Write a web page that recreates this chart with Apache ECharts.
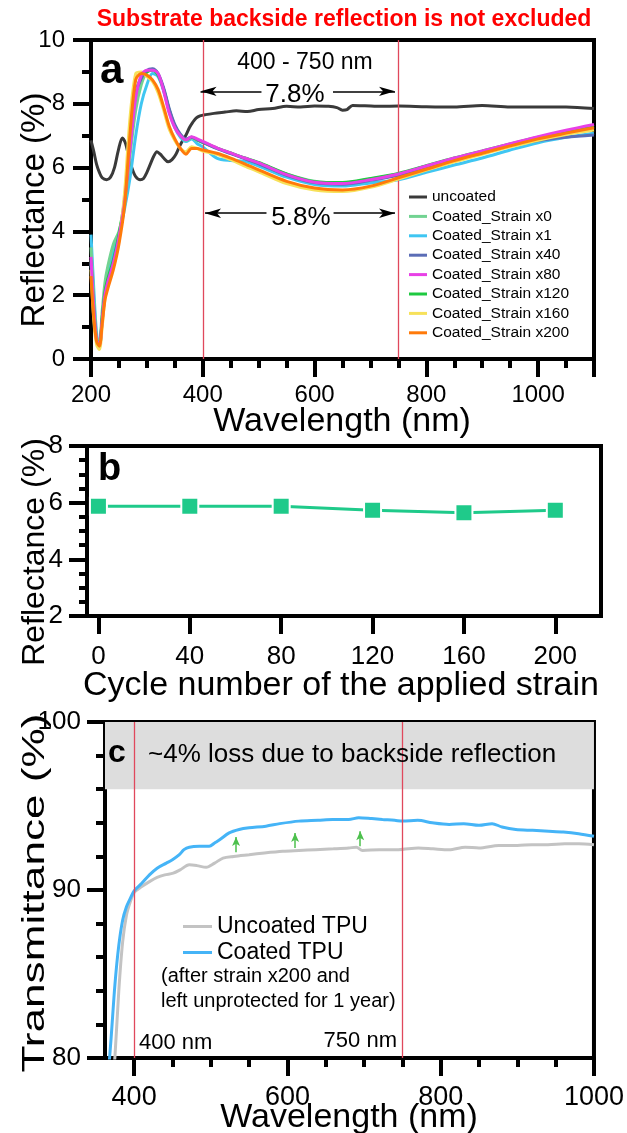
<!DOCTYPE html>
<html><head><meta charset="utf-8">
<script src="https://cdn.jsdelivr.net/npm/echarts@6/dist/echarts.min.js"></script>
<style>html,body{margin:0;padding:0;background:#fff}#c{width:627px;height:1133px}</style>
</head><body><div id="c"></div>
<script>
// ---------- Panel a data ----------
const wlCoated = [200,205,210,215,220,225,230,240,250,260,270,280,290,300,310,320,330,340,350,360,370,380,390,400,425,450,475,500,550,600,650,700,750,800,850,900,950,1000,1050,1100];
const wlUncoated = [200,205,210,215,220,228,235,242,249,256,262,268,274,280,288,294,300,306,312,318,324,330,338,345,352,358,364,370,376,382,388,395,405,420,440,460,480,500,525,550,575,600,625,640,650,658,668,690,720,750,800,850,900,950,1000,1050,1100];
const rUncoated = [6.85,6.5,6.1,5.85,5.68,5.62,5.7,6.0,6.55,6.93,6.75,6.3,5.95,5.72,5.62,5.66,5.85,6.1,6.35,6.5,6.42,6.3,6.18,6.25,6.42,6.65,6.85,7.02,7.25,7.42,7.55,7.62,7.66,7.7,7.74,7.78,7.76,7.82,7.85,7.92,7.9,7.93,7.92,7.88,7.8,7.82,7.95,7.94,7.92,7.93,7.91,7.9,7.95,7.9,7.9,7.9,7.85];
const rStrain0   = [3.5,1.9,0.7,0.5,1.5,2.4,2.9,3.6,4.0,4.8,6.4,7.8,8.6,9.0,9.08,8.9,8.45,7.8,7.3,7.0,6.85,6.93,6.85,6.78,6.6,6.45,6.3,6.15,5.8,5.57,5.52,5.64,5.8,6.05,6.28,6.5,6.72,6.93,7.12,7.28];
const rStrain1   = [3.9,2.2,0.8,0.35,1.2,2.1,2.6,3.4,3.9,4.7,5.7,7.0,8.0,8.6,8.95,8.85,8.4,7.75,7.25,6.95,6.82,6.9,6.75,6.65,6.3,6.22,6.2,6.05,5.7,5.47,5.42,5.52,5.62,5.85,6.08,6.3,6.55,6.78,6.95,7.08];
const rStrain40  = [3.0,1.5,0.55,0.4,1.2,2.0,2.4,3.0,3.8,4.9,6.9,8.3,8.8,9.05,9.1,8.95,8.5,7.85,7.35,7.05,6.9,6.95,6.88,6.8,6.6,6.44,6.28,6.12,5.76,5.53,5.48,5.6,5.76,6.0,6.25,6.47,6.7,6.85,6.95,7.02];
const rStrain80  = [3.2,1.6,0.6,0.45,1.2,2.0,2.4,3.0,3.8,4.9,6.6,8.2,8.9,9.05,9.05,8.95,8.4,7.7,7.25,7.0,6.87,6.97,6.9,6.82,6.62,6.46,6.3,6.15,5.78,5.54,5.5,5.62,5.8,6.05,6.3,6.52,6.75,6.97,7.17,7.35];
const rStrain120 = [3.1,1.6,0.6,0.45,1.3,2.1,2.5,3.1,3.9,5.0,6.8,8.3,8.85,9.0,9.05,8.9,8.45,7.8,7.3,7.02,6.88,6.95,6.88,6.8,6.62,6.46,6.3,6.16,5.8,5.56,5.53,5.66,5.82,6.06,6.3,6.52,6.74,6.95,7.13,7.3];
const rStrain160 = [2.8,1.2,0.45,0.3,1.0,1.9,2.3,2.9,3.7,5.2,7.6,8.95,9.0,8.85,8.7,8.35,7.8,7.2,6.85,6.6,6.5,6.65,6.6,6.52,6.42,6.25,6.05,5.87,5.5,5.3,5.25,5.38,5.64,5.92,6.18,6.42,6.65,6.86,7.04,7.18];
const rStrain200 = [2.6,1.3,0.55,0.4,1.1,1.85,2.2,2.8,3.6,4.8,7.1,8.75,8.95,8.9,8.75,8.45,7.9,7.3,6.9,6.6,6.42,6.6,6.6,6.55,6.45,6.3,6.12,5.93,5.57,5.36,5.3,5.42,5.68,5.95,6.22,6.45,6.68,6.9,7.08,7.25];
const seriesNamesA = ['uncoated','Coated_Strain x0','Coated_Strain x1','Coated_Strain x40','Coated_Strain x80','Coated_Strain x120','Coated_Strain x160','Coated_Strain x200'];
const xTicksA = [200,400,600,800,1000];
const yTicksA = [0,2,4,6,8,10];

// ---------- Panel b data ----------
const cycles = [0,40,80,120,160,200];
const reflAvg = [5.87,5.87,5.87,5.73,5.64,5.73];

// ---------- Panel c data ----------
const wlCoatedTPU = [366,370,375,380,385,390,395,400,410,420,430,442,450,459,465,472,485,498,505,512,524,537,550,572,590,615,640,659,680,693,710,724,740,750,770,789,811,830,850,867,880,898,920,941,960,980,1000];
const tCoatedTPU  = [78.9,81.2,84.4,86.7,88.2,89.0,89.5,89.95,90.4,90.9,91.3,91.6,91.8,92.1,92.4,92.55,92.6,92.6,92.8,93.0,93.4,93.6,93.7,93.8,93.95,94.1,94.15,94.2,94.2,94.3,94.25,94.2,94.15,94.1,94.15,94.0,93.9,93.95,93.85,93.95,93.75,93.6,93.55,93.5,93.45,93.35,93.2];
const wlUncoatedTPU = [372,375,380,385,390,395,400,410,420,430,440,451,460,472,482,494,505,516,530,550,570,594,615,637,660,680,690,698,720,745,771,790,811,832,850,876,900,919,940,962,980,1000];
const tUncoatedTPU  = [78.5,80.1,84.0,86.9,88.5,89.3,89.85,90.2,90.5,90.75,90.9,91.0,91.2,91.5,91.45,91.35,91.6,91.9,92.0,92.1,92.2,92.3,92.35,92.4,92.45,92.5,92.55,92.35,92.4,92.4,92.5,92.45,92.4,92.55,92.5,92.65,92.65,92.7,92.7,92.75,92.75,92.7];
const xTicksC = [400,600,800,1000];
const xMinorC = [450,500,550,650,700,750,850,900,950];

const FONT = '"Liberation Sans", Arial, Helvetica, sans-serif';
const pair = (xs, ys) => xs.map((x, i) => [x, ys[i]]);
const plain = v => String(v);

const colorsA = ['#3a3a3a','#72d392','#3fc6f2','#5b6db6','#e840e6','#1ec940','#f7e15a','#ff7a0a'];
const valsA = [rUncoated,rStrain0,rStrain1,rStrain40,rStrain80,rStrain120,rStrain160,rStrain200];
const zA = [2,4,3,6,8,5,7,9];

const chart = echarts.init(document.getElementById('c'), null, {renderer:'canvas'});

const axisCommon = {
  axisLine:{show:true,onZero:false,lineStyle:{color:'#000',width:4}},
  axisTick:{show:true,inside:false,length:18,lineStyle:{color:'#000',width:4}},
  splitLine:{show:false},
  axisLabel:{color:'#000',fontFamily:FONT}
};
function ax(extra){ return Object.assign({}, JSON.parse(JSON.stringify(axisCommon)), extra); }

const seriesA = seriesNamesA.map((n, i) => ({
  name:n, type:'line', xAxisIndex:0, yAxisIndex:0, z: zA[i],
  data: pair(i === 0 ? wlUncoated : wlCoated, valsA[i]),
  showSymbol:false, symbol:'none', smooth:0.3,
  lineStyle:{color:colorsA[i], width:3}, itemStyle:{color:colorsA[i]}
}));
seriesA[0].markLine = {
  silent:true, animation:false,
  label:{show:false},
  data:[
    [{coord:[400,0],symbol:'none'},{coord:[400,10],symbol:'none',lineStyle:{color:'#e0485c',width:1.3}}],
    [{coord:[750,0],symbol:'none'},{coord:[750,10],symbol:'none',lineStyle:{color:'#e0485c',width:1.3}}],
    [{coord:[505,8.39],symbol:'none'},{coord:[396,8.39],symbol:'arrow'}],
    [{coord:[633,8.39],symbol:'none'},{coord:[744,8.39],symbol:'arrow'}],
    [{coord:[514,4.57],symbol:'none'},{coord:[404,4.57],symbol:'arrow'}],
    [{coord:[634,4.57],symbol:'none'},{coord:[744,4.57],symbol:'arrow'}]
  ],
  symbolSize:[7,16],
  lineStyle:{color:'#000',width:1.5,type:'solid'}
};

const seriesB = [{
  name:'avg', type:'line', xAxisIndex:1, yAxisIndex:1,
  data: pair(cycles, reflAvg),
  symbol:'rect', symbolSize:17, showSymbol:true,
  lineStyle:{color:'#1fca8a', width:3},
  itemStyle:{color:'#1fca8a', borderColor:'#fff', borderWidth:2}
}];

const seriesC = [
  {name:'Uncoated TPU', type:'line', xAxisIndex:2, yAxisIndex:2, z:3,
   data: pair(wlUncoatedTPU, tUncoatedTPU), showSymbol:false, symbol:'none', smooth:0.3,
   lineStyle:{color:'#c3c3c3', width:3}, itemStyle:{color:'#c3c3c3'},
   markArea:{silent:true, itemStyle:{color:'#dddddd'}, data:[[{yAxis:96},{yAxis:100}]]}
  },
  {name:'Coated TPU', type:'line', xAxisIndex:2, yAxisIndex:2, z:4,
   data: pair(wlCoatedTPU, tCoatedTPU), showSymbol:false, symbol:'none', smooth:0.3,
   lineStyle:{color:'#45b4f7', width:3}, itemStyle:{color:'#45b4f7'},
   markLine:{silent:true, animation:false, label:{show:false}, symbolSize:[6,9],
     data:[
       [{coord:[400,80],symbol:'none',lineStyle:{color:'#e0485c',width:1.3}},{coord:[400,100],symbol:'none'}],
       [{coord:[750,80],symbol:'none',lineStyle:{color:'#e0485c',width:1.3}},{coord:[750,100],symbol:'none'}],
       [{coord:[533,92.25],symbol:'none'},{coord:[533,93.15],symbol:'arrow'}],
       [{coord:[610,92.5],symbol:'none'},{coord:[610,93.4],symbol:'arrow'}],
       [{coord:[695,92.6],symbol:'none'},{coord:[695,93.5],symbol:'arrow'}]
     ],
     lineStyle:{color:'#4cc04c',width:1.5,type:'solid'}
   }
  }
];

function text(t, x, y, size, align, weight, color, rot, stretch){
  const g = {type:'text', x, y, z:50, style:{text:t, fill:color||'#000', font:`${weight||'normal'} ${size}px ${FONT}`, align:align||'left', verticalAlign:'middle'}};
  if (rot) g.rotation = rot;
  if (stretch) g.scaleX = stretch;
  return g;
}

const option = {
  animation:false,
  backgroundColor:'#fff',
  grid:[
    {left:91, top:40, width:503, height:319, show:true, borderWidth:4, borderColor:'#000', backgroundColor:'transparent'},
    {left:87, top:446, width:514, height:170, show:true, borderWidth:4, borderColor:'#000', backgroundColor:'transparent'},
    {left:105, top:722, width:490.5, height:336, show:true, borderWidth:4, borderColor:'#000', backgroundColor:'transparent'}
  ],
  xAxis:[
    ax({type:'value', gridIndex:0, min:200, max:1100, interval:200,
       minorTick:{show:true, splitNumber:4, length:9, lineStyle:{color:'#000',width:4}},
       axisLabel:{color:'#000', fontFamily:FONT, fontSize:24, margin:24, customValues:xTicksA, formatter:plain}}),
    ax({type:'value', gridIndex:1, min:-5, max:220,
       axisTick:{show:true, length:18, lineStyle:{color:'#000',width:4}, customValues:cycles},
       axisLabel:{color:'#000', fontFamily:FONT, fontSize:26, margin:28, customValues:cycles, formatter:plain}}),
    ax({type:'value', gridIndex:2, min:362, max:1000,
       axisTick:{show:true, length:18, lineStyle:{color:'#000',width:4}, customValues:xTicksC},
       axisLabel:{color:'#000', fontFamily:FONT, fontSize:27, margin:26, customValues:xTicksC, formatter:plain}}),
    {type:'value', gridIndex:2, min:362, max:1000, position:'bottom',
       axisLine:{show:false}, splitLine:{show:false},
       axisTick:{show:true, length:9, lineStyle:{color:'#000',width:4}, customValues:xMinorC},
       axisLabel:{show:false}}
  ],
  yAxis:[
    ax({type:'value', gridIndex:0, min:0, max:10, interval:2,
       minorTick:{show:true, splitNumber:2, length:9, lineStyle:{color:'#000',width:4}},
       axisLabel:{color:'#000', fontFamily:FONT, fontSize:24, margin:26, customValues:yTicksA, formatter:plain}}),
    ax({type:'value', gridIndex:1, min:2, max:8, interval:2,
       minorTick:{show:true, splitNumber:4, length:8, lineStyle:{color:'#000',width:4}},
       axisLabel:{color:'#000', fontFamily:FONT, fontSize:26, margin:24, formatter:plain}}),
    ax({type:'value', gridIndex:2, min:80, max:100, interval:10,
       minorTick:{show:true, splitNumber:5, length:9, lineStyle:{color:'#000',width:4}},
       axisLabel:{color:'#000', fontFamily:FONT, fontSize:26, margin:24, formatter:plain}})
  ],
  legend:[
    {data:seriesNamesA, orient:'vertical', left:409, top:189, itemWidth:18, itemHeight:3, itemGap:3.4,
     selectedMode:false, icon:'rect',
     textStyle:{fontFamily:FONT, fontSize:15.5, lineHeight:15, color:'#000'}, padding:0},
    {data:['Uncoated TPU','Coated TPU'], orient:'vertical', left:183, top:915, itemWidth:29, itemHeight:3, itemGap:3,
     selectedMode:false, icon:'rect',
     textStyle:{fontFamily:FONT, fontSize:23, lineHeight:23, color:'#000'}, padding:0}
  ],
  series:[...seriesA, ...seriesB, ...seriesC],
  graphic:[
    text('Substrate backside reflection is not excluded', 344, 20, 23, 'center', 'bold', '#ff0000'),
    text('a', 100, 71, 42, 'left', 'bold'),
    text('400 - 750 nm', 305, 63, 23, 'center'),
    text('7.8%', 295, 95, 26, 'center'),
    text('5.8%', 301, 218, 26, 'center'),
    text('Wavelength (nm)', 342, 422, 34, 'center'),
    text('Reflectance (%)', 35, 210, 33, 'center', 'normal', '#000', Math.PI/2),
    text('b', 98, 470, 38, 'left', 'bold'),
    text('Cycle number of the applied strain', 341, 686, 34, 'center'),
    text('Reflectance (%)', 35, 552, 32, 'center', 'normal', '#000', Math.PI/2),
    text('c', 108, 753, 32, 'left', 'bold'),
    text('~4% loss due to backside reflection', 148, 755, 26, 'left'),
    text('(after strain x200 and', 161, 976, 20, 'left'),
    text('left unprotected for 1 year)', 161, 1001, 20, 'left'),
    text('400 nm', 139, 1043, 22, 'left'),
    text('750 nm', 397, 1041, 22, 'right'),
    text('Wavelength (nm)', 349, 1118, 34, 'center'),
    text('Transmittance (%)', 35, 893, 32, 'center', 'normal', '#000', Math.PI/2, 1.38)
  ]
};
chart.setOption(option);
</script></body></html>
